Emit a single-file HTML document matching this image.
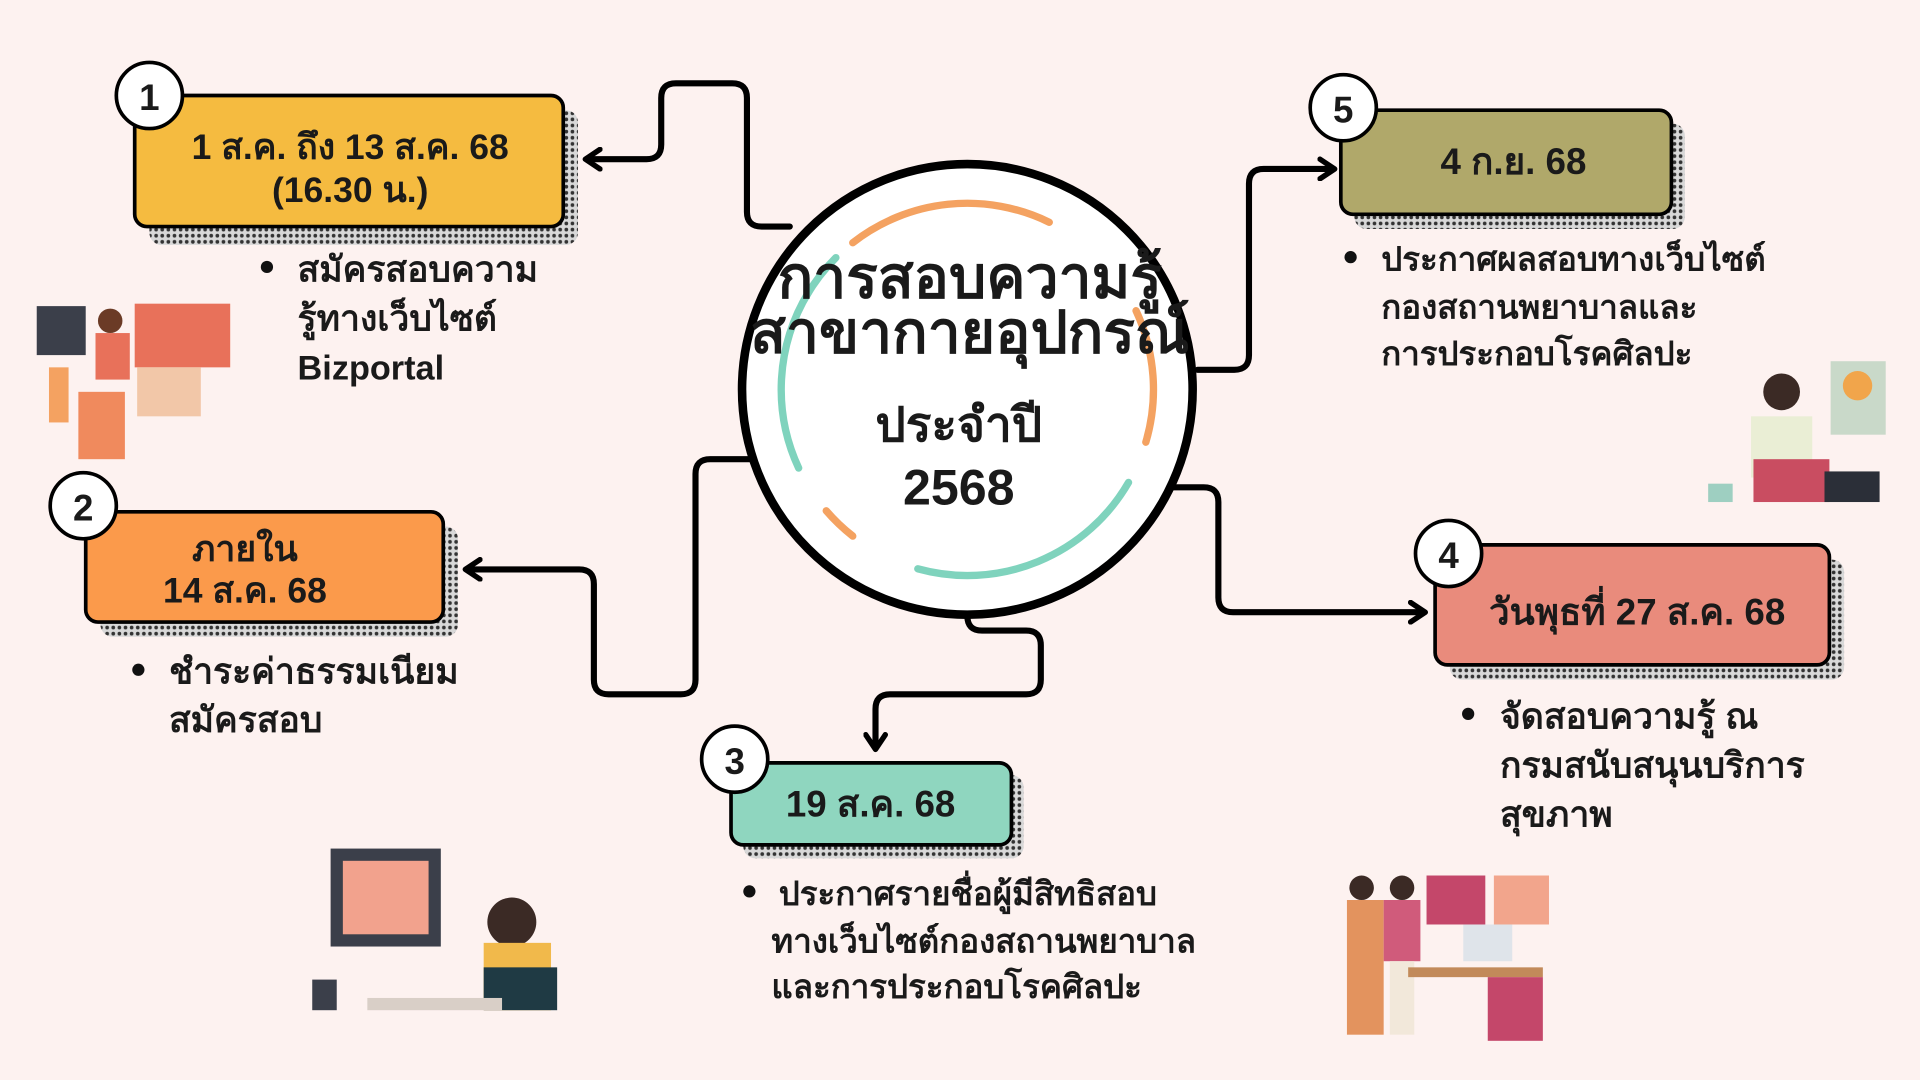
<!DOCTYPE html>
<html><head><meta charset="utf-8">
<style>
html,body{margin:0;padding:0;background:#fdf2f0;}
svg{display:block;}
text{font-family:"Liberation Sans","DejaVu Sans",sans-serif;font-weight:bold;fill:#1a1a1a;}
</style></head><body>
<svg width="1920" height="1080" viewBox="0 0 1568 882" xmlns="http://www.w3.org/2000/svg">
<defs>
<pattern id="dots" width="5" height="5" patternUnits="userSpaceOnUse">
<rect width="5" height="5" fill="#d8d8d8"/><circle cx="2.5" cy="2.5" r="1.5" fill="#333"/>
</pattern>
<marker id="ar" viewBox="0 0 10 10" refX="6" refY="5" markerWidth="4" markerHeight="4" orient="auto">
<path d="M1,1 L7,5 L1,9" fill="none" stroke="#000" stroke-width="2.2" stroke-linecap="round" stroke-linejoin="round"/>
</marker>
</defs>
<rect width="1568" height="882" fill="#fdf2f0"/>

<g fill="none" stroke="#000" stroke-width="5" stroke-linecap="round" stroke-linejoin="round">
<path d="M645,185 H622 Q610,185 610,173 V80 Q610,68 598,68 H552 Q540,68 540,80 V118 Q540,130 528,130 H480" marker-end="url(#ar)"/>
<path d="M612,375 H580 Q568,375 568,387 V555 Q568,567 556,567 H497 Q485,567 485,555 V477 Q485,465 473,465 H382" marker-end="url(#ar)"/>
<path d="M790,493 V503 Q790,515 802,515 H838 Q850,515 850,527 V555 Q850,567 838,567 H727 Q715,567 715,579 V610" marker-end="url(#ar)"/>
<path d="M958,398 H983 Q995,398 995,410 V488 Q995,500 1007,500 H1162" marker-end="url(#ar)"/>
<path d="M978,302 H1008 Q1020,302 1020,290 V150 Q1020,138 1032,138 H1088" marker-end="url(#ar)"/>
</g>

<circle cx="790" cy="318" r="184" fill="#fff" stroke="#000" stroke-width="7"/>
<g fill="none" stroke-width="6" stroke-linecap="round">
<circle cx="790" cy="318" r="152" stroke="#f4a261" stroke-dasharray="170 785" transform="rotate(-128 790 318)"/>
<circle cx="790" cy="318" r="152" stroke="#7fd3bd" stroke-dasharray="40 915" transform="rotate(-150 790 318)"/>
<circle cx="790" cy="318" r="152" stroke="#7fd3bd" stroke-dasharray="150 805" transform="rotate(155 790 318)"/>
<circle cx="790" cy="318" r="152" stroke="#f4a261" stroke-dasharray="30 925" transform="rotate(128 790 318)"/>
<circle cx="790" cy="318" r="152" stroke="#7fd3bd" stroke-dasharray="200 755" transform="rotate(30 790 318)"/>
<circle cx="790" cy="318" r="152" stroke="#f4a261" stroke-dasharray="110 845" transform="rotate(-25 790 318)"/>
</g>
<text x="792" y="243" font-size="48" text-anchor="middle">การสอบความรู้</text>
<text x="792" y="288" font-size="48" text-anchor="middle">สาขากายอุปกรณ์</text>
<text x="783" y="360" font-size="39" text-anchor="middle">ประจำปี</text>
<text x="783" y="412" font-size="41" text-anchor="middle">2568</text>

<rect x="122" y="90" width="350" height="110" rx="10" fill="url(#dots)"/>
<rect x="110" y="78" width="350" height="107" rx="10" fill="#f5bb40" stroke="#000" stroke-width="3"/>
<text x="286" y="130" font-size="29" text-anchor="middle">1 ส.ค. ถึง 13 ส.ค. 68</text>
<text x="286" y="165" font-size="29" text-anchor="middle">(16.30 น.)</text>
<circle cx="122" cy="78" r="27" fill="#fff" stroke="#000" stroke-width="3"/>
<text x="122" y="90" font-size="30" text-anchor="middle">1</text>
<circle cx="218" cy="218" r="5" fill="#111"/>
<text x="243" y="230" font-size="29">สมัครสอบความ</text>
<text x="243" y="270" font-size="29">รู้ทางเว็บไซต์</text>
<text x="243" y="310" font-size="28">Bizportal</text>

<rect x="82" y="430" width="292" height="90" rx="10" fill="url(#dots)"/>
<rect x="70" y="418" width="292" height="90" rx="10" fill="#fb9a4b" stroke="#000" stroke-width="3"/>
<text x="200" y="458" font-size="29" text-anchor="middle">ภายใน</text>
<text x="200" y="492" font-size="29" text-anchor="middle">14 ส.ค. 68</text>
<circle cx="68" cy="413" r="27" fill="#fff" stroke="#000" stroke-width="3"/>
<text x="68" y="425" font-size="30" text-anchor="middle">2</text>
<circle cx="113" cy="547" r="5" fill="#111"/>
<text x="138" y="558" font-size="29">ชำระค่าธรรมเนียม</text>
<text x="138" y="598" font-size="29">สมัครสอบ</text>

<rect x="607" y="633" width="229" height="68" rx="10" fill="url(#dots)"/>
<rect x="597" y="623" width="229" height="67" rx="10" fill="#8fd6bf" stroke="#000" stroke-width="3"/>
<text x="711" y="667" font-size="30" text-anchor="middle">19 ส.ค. 68</text>
<circle cx="600" cy="620" r="27" fill="#fff" stroke="#000" stroke-width="3"/>
<text x="600" y="632" font-size="30" text-anchor="middle">3</text>
<circle cx="612" cy="728" r="5" fill="#111"/>
<text x="636" y="739" font-size="27">ประกาศรายชื่อผู้มีสิทธิสอบ</text>
<text x="630" y="778" font-size="27">ทางเว็บไซต์กองสถานพยาบาล</text>
<text x="630" y="815" font-size="27">และการประกอบโรคศิลปะ</text>

<rect x="1184" y="457" width="322" height="98" rx="10" fill="url(#dots)"/>
<rect x="1172" y="445" width="322" height="98" rx="10" fill="#e98b7c" stroke="#000" stroke-width="3"/>
<text x="1337" y="510" font-size="30" text-anchor="middle">วันพุธที่ 27 ส.ค. 68</text>
<circle cx="1183" cy="452" r="27" fill="#fff" stroke="#000" stroke-width="3"/>
<text x="1183" y="464" font-size="30" text-anchor="middle">4</text>
<circle cx="1199" cy="583" r="5" fill="#111"/>
<text x="1225" y="595" font-size="29">จัดสอบความรู้ ณ</text>
<text x="1225" y="635" font-size="29">กรมสนับสนุนบริการ</text>
<text x="1225" y="675" font-size="29">สุขภาพ</text>

<rect x="1106" y="101" width="270" height="86" rx="10" fill="url(#dots)"/>
<rect x="1095" y="90" width="270" height="85" rx="10" fill="#b0a86a" stroke="#000" stroke-width="3"/>
<text x="1236" y="142" font-size="30" text-anchor="middle">4 ก.ย. 68</text>
<circle cx="1097" cy="88" r="27" fill="#fff" stroke="#000" stroke-width="3"/>
<text x="1097" y="100" font-size="30" text-anchor="middle">5</text>
<circle cx="1103" cy="210" r="5" fill="#111"/>
<text x="1128" y="221" font-size="27">ประกาศผลสอบทางเว็บไซต์</text>
<text x="1128" y="260" font-size="27">กองสถานพยาบาลและ</text>
<text x="1128" y="298" font-size="27">การประกอบโรคศิลปะ</text>

<g>
<rect x="30" y="250" width="40" height="40" fill="#3b3f4a"/>
<rect x="110" y="248" width="78" height="52" fill="#e8715a"/>
<rect x="112" y="300" width="52" height="40" fill="#f2c7a8"/>
<rect x="64" y="320" width="38" height="55" fill="#f08a5d"/>
<circle cx="90" cy="262" r="10" fill="#6b3b26"/>
<rect x="78" y="272" width="28" height="38" fill="#e8715a"/>
<rect x="40" y="300" width="16" height="45" fill="#f4a261"/>
</g>
<g>
<rect x="270" y="693" width="90" height="80" fill="#3b3f4a"/>
<rect x="280" y="703" width="70" height="60" fill="#f2a28d"/>
<rect x="255" y="800" width="20" height="25" fill="#3b3f4a"/>
<circle cx="418" cy="753" r="20" fill="#3b2a25"/>
<rect x="395" y="770" width="55" height="55" fill="#f1b94b"/>
<rect x="395" y="790" width="60" height="35" fill="#1f3a44"/>
<rect x="300" y="815" width="110" height="10" fill="#d9cfc7"/>
</g>
<g>
<rect x="1495" y="295" width="45" height="60" fill="#c9d9c9"/>
<circle cx="1517" cy="315" r="12" fill="#f1a54b"/>
<circle cx="1455" cy="320" r="15" fill="#3b2a25"/>
<rect x="1430" y="340" width="50" height="50" fill="#eaeed5"/>
<rect x="1432" y="375" width="62" height="35" fill="#c94d61"/>
<rect x="1490" y="385" width="45" height="25" fill="#2b2f38"/>
<rect x="1395" y="395" width="20" height="15" fill="#9ecfc1"/>
</g>
<g>
<rect x="1165" y="715" width="48" height="40" fill="#c4476a"/>
<rect x="1220" y="715" width="45" height="40" fill="#f2a58c"/>
<circle cx="1112" cy="725" r="10" fill="#3b2a25"/>
<rect x="1100" y="735" width="30" height="110" fill="#e3935e"/>
<circle cx="1145" cy="725" r="10" fill="#3b2a25"/>
<rect x="1130" y="735" width="30" height="50" fill="#d05b7b"/>
<rect x="1135" y="785" width="20" height="60" fill="#f2e8da"/>
<rect x="1150" y="790" width="110" height="8" fill="#c28a5a"/>
<rect x="1215" y="798" width="45" height="52" fill="#c4476a"/>
<rect x="1195" y="755" width="40" height="30" fill="#dfe4ea"/>
</g>
</svg>
</body></html>
